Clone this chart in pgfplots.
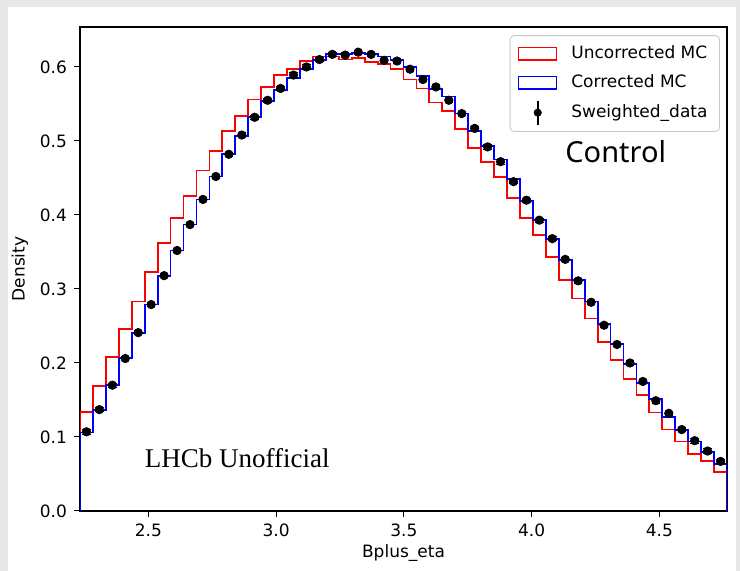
\documentclass[border=0pt]{standalone}
\usepackage{pgfplots}
\pgfplotsset{compat=1.18}
\usepackage{pgfplotstable}
\usepackage{fontspec}
\setmainfont{DejaVu Sans}
\newfontfamily\ctrlfont{Noto Sans}
\newfontfamily\lhcbfont{Liberation Serif}

% step histograms: left bin edge, uncorrected MC, corrected MC
\pgfplotstableread{
x unc cor
2.2320 0 0
2.2320 0.134 0.106
2.2827 0.169 0.136
2.3333 0.208 0.170
2.3840 0.246 0.207
2.4346 0.283 0.240
2.4853 0.323 0.279
2.5360 0.362 0.318
2.5866 0.396 0.352
2.6373 0.426 0.387
2.6879 0.460 0.421
2.7386 0.486 0.452
2.7893 0.514 0.482
2.8399 0.534 0.507
2.8906 0.556 0.532
2.9412 0.573 0.554
2.9919 0.589 0.569
3.0426 0.597 0.585
3.0932 0.608 0.597
3.1439 0.614 0.609
3.1945 0.614 0.617
3.2452 0.610 0.617
3.2959 0.612 0.619
3.3465 0.607 0.618
3.3972 0.604 0.614
3.4478 0.597 0.609
3.4985 0.583 0.600
3.5492 0.571 0.588
3.5998 0.552 0.570
3.6505 0.540 0.560
3.7011 0.516 0.537
3.7518 0.491 0.513
3.8025 0.472 0.493
3.8531 0.451 0.475
3.9038 0.423 0.449
3.9544 0.396 0.419
4.0051 0.373 0.393
4.0558 0.343 0.367
4.1064 0.312 0.339
4.1571 0.287 0.312
4.2077 0.260 0.283
4.2584 0.228 0.253
4.3091 0.204 0.226
4.3597 0.178 0.199
4.4104 0.157 0.1725
4.4610 0.133 0.151
4.5117 0.110 0.1275
4.5624 0.094 0.1095
4.6130 0.077 0.094
4.6637 0.068 0.080
4.7143 0.053 0.063
4.7650 0.053 0.063
4.7650 0 0
}\histtab

% sWeighted data: bin centre, density, error
\pgfplotstableread{
x y e
2.2573 0.107 0.003
2.3080 0.137 0.003
2.3587 0.170 0.003
2.4093 0.206 0.003
2.4600 0.241 0.003
2.5106 0.279 0.003
2.5613 0.318 0.003
2.6120 0.352 0.003
2.6626 0.387 0.003
2.7133 0.421 0.003
2.7639 0.452 0.003
2.8146 0.482 0.003
2.8653 0.508 0.003
2.9159 0.532 0.003
2.9666 0.555 0.003
3.0172 0.571 0.003
3.0679 0.589 0.003
3.1186 0.600 0.003
3.1692 0.610 0.003
3.2199 0.617 0.003
3.2705 0.616 0.003
3.3212 0.620 0.003
3.3719 0.617 0.003
3.4225 0.609 0.003
3.4732 0.608 0.003
3.5238 0.597 0.003
3.5745 0.583 0.003
3.6252 0.573 0.003
3.6758 0.555 0.003
3.7265 0.537 0.003
3.7771 0.517 0.003
3.8278 0.492 0.003
3.8785 0.472 0.003
3.9291 0.445 0.003
3.9798 0.420 0.003
4.0304 0.393 0.003
4.0811 0.368 0.003
4.1318 0.340 0.003
4.1824 0.311 0.003
4.2331 0.282 0.003
4.2837 0.251 0.003
4.3344 0.225 0.003
4.3851 0.200 0.003
4.4357 0.175 0.003
4.4864 0.149 0.003
4.5370 0.132 0.003
4.5877 0.110 0.003
4.6384 0.095 0.003
4.6890 0.081 0.003
4.7397 0.067 0.003
}\datatab

\begin{document}
\begin{tikzpicture}
\fill[black!9] (0pt,0pt) rectangle (370pt,285.5pt);
\fill[white] (4pt,0pt) rectangle (368pt,281.75pt);
\begin{axis}[
  at={(40pt,30pt)}, anchor=south west,
  width=323.5pt, height=242pt, scale only axis,
  xmin=2.232, xmax=4.765, ymin=0, ymax=0.654,
  xtick={2.5,3.0,3.5,4.0,4.5},
  ytick={0,0.1,0.2,0.3,0.4,0.5,0.6},
  /pgf/number format/assume math mode=true,
  xticklabel style={/pgf/number format/.cd, fixed, fixed zerofill, precision=1},
  yticklabel style={/pgf/number format/.cd, fixed, fixed zerofill, precision=1},
  tick label style={font=\fontsize{8.5}{10}\selectfont},
  label style={font=\fontsize{8.5}{10}\selectfont},
  tick align=outside, tick pos=left,
  major tick length=3pt,
  tick style={black, line width=0.5pt},
  axis line style={black, line width=0.6pt},
  xlabel={Bplus\_eta}, ylabel={Density},
  x label style={at={(axis description cs:0.5,-0.0868)}, anchor=center},
  y label style={at={(axis description cs:-0.0927,0.5)}, anchor=center},
  legend style={at={(0.989,0.983)}, anchor=north east,
    draw=black!22, rounded corners=2pt, fill=white,
    font=\fontsize{8.5}{10}\selectfont,
    row sep=2.6pt, column sep=5pt, inner xsep=4pt, inner ysep=3pt,
    cells={anchor=west}},
  legend cell align=left,
]
\addplot[red, line width=0.9pt, const plot mark left,
  legend image code/.code={\draw[red, line width=0.6pt, sharp corners] (0pt,-3.2pt) rectangle (19pt,3.2pt);}]
  table[x=x, y=unc] {\histtab};
\addlegendentry{Uncorrected MC}
\addplot[blue, line width=0.9pt, const plot mark left,
  legend image code/.code={\draw[blue, line width=0.6pt, sharp corners] (0pt,-3.2pt) rectangle (19pt,3.2pt);}]
  table[x=x, y=cor] {\histtab};
\addlegendentry{Corrected MC}
\addplot[black, only marks, mark=*, mark size=2.1pt,
  legend image code/.code={\draw[black, line width=0.8pt, sharp corners] (9.5pt,-6pt)--(9.5pt,6pt); \fill[black] (9.5pt,0pt) circle (1.8pt);},
  error bars/.cd, y dir=both, y explicit,
  error bar style={black, line width=0.6pt}]
  table[x=x, y=y, y error=e] {\datatab};
\addlegendentry{Sweighted\_data}
\node[font=\ctrlfont\fontsize{14.5}{16}\selectfont, anchor=center] at (rel axis cs:0.828,0.742) {Control};
\node[font=\lhcbfont\fontsize{13.5}{15}\selectfont, anchor=center] at (rel axis cs:0.243,0.110) {LHCb Unofficial};
\end{axis}
\pgfresetboundingbox
\useasboundingbox (0pt,0pt) rectangle (370pt,285.5pt);
\end{tikzpicture}
\end{document}
